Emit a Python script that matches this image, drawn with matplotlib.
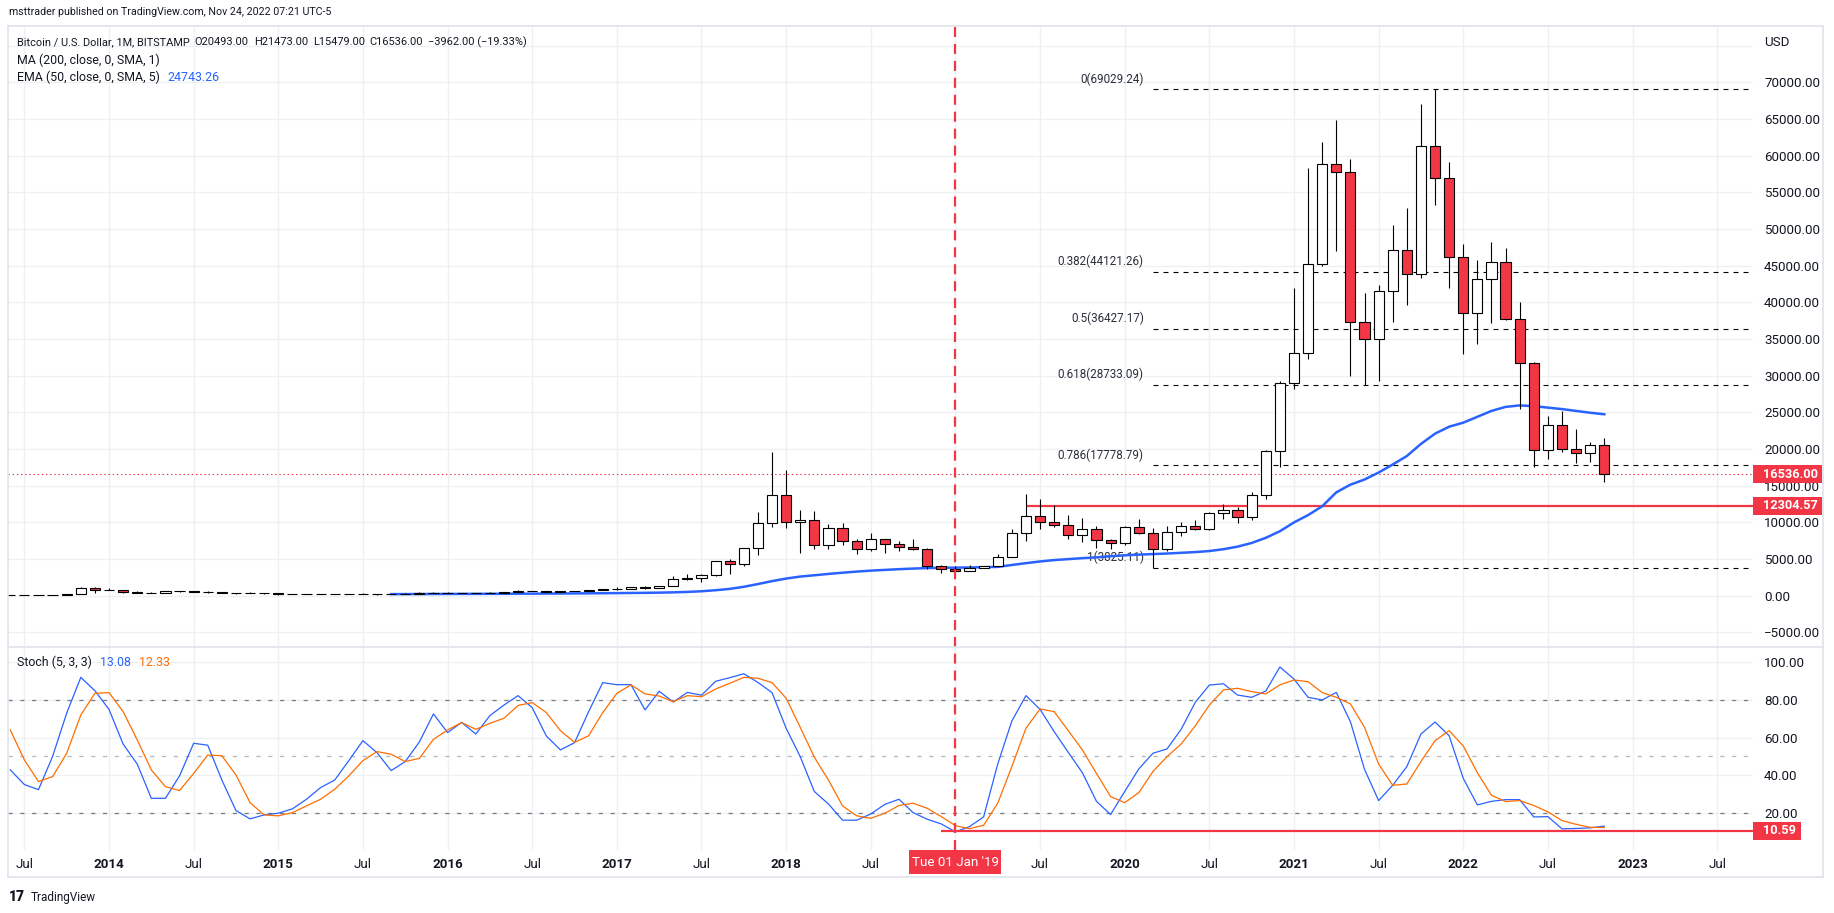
import matplotlib
matplotlib.use("Agg")
import matplotlib.pyplot as plt
import matplotlib.transforms as mtransforms
from matplotlib.patches import Rectangle
from matplotlib.lines import Line2D
import pandas as pd

plt.rcParams['font.family'] = ['Roboto', 'DejaVu Sans']
plt.rcParams['lines.scale_dashes'] = False

RED = '#F23645'
BLUE = '#2962FF'
ORANGE = '#FF6D00'
TXT = '#131722'
GRID = '#eef0f3'
FRAME = '#e0e3eb'

# BTCUSD monthly (Bitstamp), Jun 2013 .. Nov 2022
first_month = '2013-06'
opens = [
    129, 97, 106, 135, 133, 204, 1130,
    732, 803, 565, 445, 447, 628, 640, 585, 478, 387, 338, 378,
    320, 217, 254, 244, 236, 230, 263, 284, 230, 236, 313, 377,
    430, 368, 436, 416, 448, 531, 673, 624, 573, 609, 698, 743,
    964, 968, 1190, 1080, 1350, 2300, 2480, 2870, 4730, 4340, 6450, 9950,
    13800, 10100, 10330, 6930, 9240, 7500, 6390, 7730, 7030, 6630, 6320, 4020,
    3690, 3410, 3820, 4110, 5330, 8560, 10820, 10080, 9590, 8290, 9150, 7540,
    7190, 9350, 8540, 6410, 8630, 9450, 9140, 11340, 11650, 10780, 13800, 19700,
    28990, 33110, 45240, 58800, 57750, 37300, 35040, 41500, 47100, 43800, 61300, 57000,
    46200, 38500, 43200, 45500, 37700, 31800, 19900, 23300, 20050, 19420, 20493,
]
highs = [
    129, 111, 140, 150, 220, 1163, 1165,
    1000, 846, 700, 548, 630, 677, 658, 598, 494, 416, 462, 393,
    320, 267, 300, 261, 248, 268, 316, 285, 247, 335, 502, 466,
    462, 445, 438, 467, 552, 780, 704, 628, 629, 714, 753, 979,
    1150, 1200, 1350, 1360, 2750, 3000, 2950, 4800, 5000, 6470, 11400, 19666,
    17150, 11700, 11600, 9780, 9990, 7780, 8500, 7750, 7420, 7680, 6560, 4250,
    4100, 4200, 4120, 5640, 9090, 13880, 13200, 12330, 10950, 10540, 9510, 7750,
    9580, 10500, 9190, 9460, 10080, 10390, 11450, 12480, 12090, 14100, 19860, 29300,
    41950, 58350, 61790, 64900, 59600, 41300, 42400, 50500, 52900, 67000, 69029, 59100,
    47900, 45800, 48200, 47400, 40000, 31900, 24500, 25200, 22700, 20990, 21473,
]
lows = [
    88, 65, 100, 111, 100, 202, 400,
    727, 420, 440, 340, 418, 525, 564, 440, 366, 276, 318, 285,
    152, 212, 236, 214, 227, 219, 253, 162, 224, 235, 300, 350,
    350, 365, 391, 412, 436, 500, 607, 467, 567, 604, 680, 739,
    750, 933, 890, 1060, 1340, 2100, 1830, 2670, 2950, 4100, 5500, 9400,
    9210, 5890, 6440, 6390, 6930, 5750, 6070, 5880, 6100, 6200, 3650, 3130,
    3350, 3370, 3760, 4060, 5330, 7450, 9060, 9320, 7710, 7300, 6520, 6430,
    6860, 8460, 3825, 6150, 8110, 8920, 8970, 10520, 9880, 10380, 13200, 17570,
    28130, 32300, 45000, 47000, 30000, 28800, 29300, 37300, 39600, 43300, 53300, 42000,
    32900, 34300, 37200, 37600, 25400, 17600, 18700, 19600, 18150, 18200, 15479,
]
closes = [
    97, 106, 135, 133, 204, 1130, 732,
    803, 565, 445, 447, 628, 640, 585, 478, 387, 338, 378, 320,
    217, 254, 244, 236, 230, 263, 284, 230, 236, 313, 377, 430,
    368, 436, 416, 448, 531, 673, 624, 573, 609, 698, 743, 964,
    968, 1190, 1080, 1350, 2300, 2480, 2870, 4730, 4340, 6450, 9950, 13800,
    10100, 10330, 6930, 9240, 7500, 6390, 7730, 7030, 6630, 6320, 4020, 3690,
    3410, 3820, 4110, 5330, 8560, 10820, 10080, 9590, 8290, 9150, 7540, 7190,
    9350, 8540, 6410, 8630, 9450, 9140, 11340, 11650, 10780, 13800, 19700, 28990,
    33110, 45240, 58800, 57750, 37300, 35040, 41500, 47100, 43800, 61300, 57000, 46200,
    38500, 43200, 45500, 37700, 31800, 19900, 23300, 20050, 19420, 20490, 16536,
]

# EMA (50, SMA 5) line, Sep 2015 .. Nov 2022
ema_first = '2015-09'
ema_vals = [
    230, 235, 240, 246, 252, 258, 264, 270, 277, 285, 294, 303, 313, 324, 336, 350, 366, 385, 405, 430,
    470, 530, 620, 760, 940, 1230, 1600, 2000,
    2350, 2620, 2800, 2980, 3150, 3300, 3430, 3530, 3630, 3710, 3780, 3820,
    3840, 3860, 3900, 3940, 4200, 4450, 4680, 4870, 5000, 5130, 5240, 5390,
    5520, 5610, 5690, 5760, 5860, 5960, 6100, 6350, 6700, 7200, 7900, 8800,
    10000, 11000, 12200, 14100, 15150, 15850, 16800, 17900, 19050, 20700, 22100, 23050,
    23600, 24400, 25200, 25750, 25950, 25850, 25650, 25450, 25200, 24950, 24743.26,
]

# Stoch (5, 3, 3): %K and %D
stoch_k = [
    42.9, 35.1, 32.4, 50, 73, 92, 84.9,
    75, 56.6, 46, 27.8, 27.8, 39.7, 57, 56, 37.5, 21.3, 16.9, 19,
    19.9, 22.2, 27.3, 33.5, 37.5, 47.8, 58.4, 52, 42.5, 47.3, 57.7, 72.6,
    62.7, 68.1, 61.9, 71.7, 77.3, 82.3, 75.9, 60.9, 53.5, 57.3, 73.8, 89.2,
    88.1, 88.1, 74.7, 84.6, 78.9, 84, 82.5, 89.9, 91.8, 93.9, 89.3, 83.9,
    65, 49.9, 31.4, 24.8, 16.2, 16.2, 19.5, 24.6, 27.3, 20.2, 16.7, 14.2,
    10, 12.8, 17.9, 46, 68.8, 82.3, 75, 63.2, 52.2, 41.4, 26.2, 19.2,
    31.4, 43.4, 51.7, 54, 64.4, 78.7, 87.9, 88.6, 82.6, 81.4, 84.7, 97.5,
    91.1, 81.4, 80, 84, 68.5, 43.2, 26.6, 34.7, 44.6, 61.9, 68.3, 61,
    38.4, 24.3, 26.2, 27.1, 27.1, 17.9, 18.1, 11.6, 11.8, 12.1, 13.08,
]
stoch_d = [
    64.1, 48.2, 36.7, 39.3, 51.7, 72, 83.5,
    83.9, 73.8, 58.8, 42.9, 34, 31.9, 41, 50.8, 50.4, 40.2, 25.5, 19,
    18.5, 20.2, 23.8, 27.3, 32.6, 39.7, 47.8, 52.6, 51.2, 47.3, 49, 59.1,
    64.1, 68, 64.4, 67.6, 70.3, 77.1, 78.6, 73.3, 63.7, 57.5, 61, 73.3,
    83.5, 88, 83.2, 82.1, 79.1, 82.3, 81.7, 85.8, 88.8, 92, 91.5, 89.2,
    80.9, 65.5, 49.6, 37.5, 23.8, 18.5, 17.2, 19.9, 24, 25.2, 22.5, 18.1,
    13.3, 11.7, 13.5, 25.2, 44.6, 65, 75.2, 73.8, 63.7, 53.5, 41, 28.7,
    25.5, 30.8, 42, 49.9, 56.6, 66.2, 77.3, 85.3, 86.2, 84.4, 83.2, 88,
    90.6, 89.7, 83.9, 81.4, 77.9, 65.5, 46, 34.7, 35.4, 47.3, 58.4, 63.7,
    55.6, 41.4, 29.4, 26.1, 26.6, 24, 20.6, 16, 14, 12.4, 12.33,
]

fib_ratios = ['0', '0.382', '0.5', '0.618', '0.786', '1']
fib_prices = [69029.24, 44121.26, 36427.17, 28733.09, 17778.79, 3825.11]
fib_from = '2020-03'
support_price = 12304.57
support_from = '2019-06'
stoch_low = 10.59
stoch_low_from = '2018-12'
marker_month = '2019-01'
last_close = 16536.00
price_ticks = list(range(-5000, 70001, 5000))
stoch_ticks = [20, 40, 60, 80, 100]

months = pd.period_range(first_month, periods=len(closes) + 10, freq='M')


def idx(m):
    return (pd.Period(m, 'M') - months[0]).n


x = list(range(len(closes)))
ema_x = [idx(ema_first) + k for k in range(len(ema_vals))]
tick_x = [k for k, p in enumerate(months) if p.month in (1, 7)]
tick_lbl = ['Jul' if months[k].month == 7 else str(months[k].year) for k in tick_x]

# ---- figure layout (pixels) ----
W, H = 1834, 913
fig = plt.figure(figsize=(W / 100, H / 100), dpi=100)
L, R = 8, 1753
T, MID, BOT = 26, 647, 849.5
ax = fig.add_axes([L / W, 1 - MID / H, (R - L) / W, (MID - T) / H])
ax2 = fig.add_axes([L / W, 1 - BOT / H, (R - L) / W, (BOT - MID) / H])
IDT = mtransforms.IdentityTransform()
AXFS = 9.6

xmin, xmax = -0.16, 123.54
for a in (ax, ax2):
    a.set_xlim(xmin, xmax)
    for s in a.spines.values():
        s.set_visible(False)
    a.set_xticks(tick_x)
    a.set_axisbelow(True)
    a.grid(True, color=GRID, lw=1)
    a.yaxis.tick_right()
ax.set_ylim(-6979, 77667)
ax2.set_ylim(0.64, 108.1)

ax.set_yticks(price_ticks + [75000])
ax.set_yticklabels([f'{v:.2f}'.replace('-', '\u2212') for v in price_ticks] + [''])
ax.tick_params(axis='both', length=0, labelbottom=False, pad=8, labelsize=AXFS, labelcolor=TXT)

ax2.set_yticks(stoch_ticks)
ax2.set_yticklabels([f'{v:.2f}' for v in stoch_ticks])
ax2.set_xticklabels([('' if months[k] == pd.Period(marker_month, 'M') else s) for k, s in zip(tick_x, tick_lbl)])
ax2.tick_params(axis='both', length=0, pad=8, labelsize=AXFS, labelcolor=TXT)
ax2.tick_params(axis='x', pad=6)
for lab, s in zip(ax2.get_xticklabels(), tick_lbl):
    if s != 'Jul':
        lab.set_fontweight('bold')

# ---- main pane ----
ax.hlines(fib_prices, idx(fib_from), xmax, colors='black', lw=0.8, linestyles=(0, (3.6, 3.6)), zorder=2)
for r, p in zip(fib_ratios, fib_prices):
    ax.annotate(f'{r}({p:.2f})', xy=(idx(fib_from), p), xytext=(-6.5, 7.5),
                textcoords='offset points', ha='right', va='center', fontsize=8.4, color='#2a2e39')

ax.axhline(last_close, color=RED, lw=0.8, linestyle=(0, (1, 2)), zorder=2)
ax.hlines(support_price, idx(support_from), xmax, colors=RED, lw=1.6, zorder=2)

ax.plot(ema_x, ema_vals, color=BLUE, lw=1.8, zorder=3)

body_lo = [min(o, c) for o, c in zip(opens, closes)]
body_h = [abs(c - o) for o, c in zip(opens, closes)]
fills = ['white' if c >= o else RED for o, c in zip(opens, closes)]
ax.vlines(x, lows, highs, color='black', lw=0.8, zorder=4)
ax.bar(x, body_h, bottom=body_lo, width=0.72, color=fills, edgecolor='black', linewidth=0.8, zorder=5)

# ---- stoch pane ----
ax2.axhline(80, color='#787B86', lw=0.9, linestyle=(0, (3, 5.5)))
ax2.axhline(20, color='#787B86', lw=0.9, linestyle=(0, (3, 5.5)))
ax2.axhline(50, color='#B2B5BE', lw=0.9, linestyle=(0, (3, 5.5)))
ax2.plot(x, stoch_k, color=BLUE, lw=0.9, zorder=3)
ax2.plot(x, stoch_d, color=ORANGE, lw=0.9, zorder=3)
ax2.hlines(stoch_low, idx(stoch_low_from), xmax, colors=RED, lw=1.6, zorder=4)

for a in (ax, ax2):
    a.axvline(idx(marker_month), color=RED, lw=1.6, linestyle=(0, (7.2, 5)), zorder=6)

# ---- frame ----
for (x0, y0, x1, y1) in [(L, T, 1823, T), (L, 877, 1823, 877), (L, T, L, 877),
                         (1823, T, 1823, 877), (L, MID, 1823, MID)]:
    fig.add_artist(Line2D([x0, x1], [H - y0, H - y1], transform=IDT, color=FRAME, lw=1.2))


def ptext(px, py, s, **kw):
    kw.setdefault('va', 'center')
    return fig.text(px, H - py, s, transform=IDT, **kw)


renderer = fig.canvas.get_renderer()


def chain(px, py, parts, size, gap=6):
    for s, col in parts:
        t = ptext(px, py, s, color=col, fontsize=size)
        px = t.get_window_extent(renderer).x1 + gap


ptext(9, 12, 'msttrader published on TradingView.com, Nov 24, 2022 07:21 UTC-5', color=TXT, fontsize=7.7)
chain(17, 42, [('Bitcoin / U.S. Dollar, 1M, BITSTAMP', TXT), ('O20493.00', TXT), ('H21473.00', TXT),
               ('L15479.00', TXT), ('C16536.00', TXT), ('\u22123962.00 (\u221219.33%)', TXT)], 7.9, gap=5)
chain(17, 60, [('MA (200, close, 0, SMA, 1)', TXT)], 8.9)
chain(17, 77, [('EMA (50, close, 0, SMA, 5)', TXT), (f'{ema_vals[-1]:.2f}', BLUE)], 8.9, gap=7)
chain(17, 662, [('Stoch (5, 3, 3)', TXT), (f'{stoch_k[-1]:.2f}', BLUE), (f'{stoch_d[-1]:.2f}', ORANGE)], 8.9, gap=8)
ptext(1764, 42, 'USD', color=TXT, fontsize=AXFS)


def axis_box(a, val, label, wpx):
    yd = a.transData.transform((0, val))[1]
    fig.add_artist(Rectangle((R, yd - 9), wpx, 18, transform=IDT, facecolor=RED, edgecolor='none', zorder=7))
    fig.text(1763, yd, label, transform=IDT, color='white', fontweight='bold', fontsize=9.2,
             va='center', zorder=8)


axis_box(ax, last_close, f'{last_close:.2f}', 69)
axis_box(ax, support_price, f'{support_price:.2f}', 69)
axis_box(ax2, stoch_low, f'{stoch_low:.2f}', 48)

xd = ax2.transData.transform((idx(marker_month), 0))[0]
fig.add_artist(Rectangle((xd - 46, H - 874), 92, 24, transform=IDT, facecolor=RED, edgecolor='none', zorder=7))
fig.text(xd, H - 862, "Tue 01 Jan '19", transform=IDT, color='white', fontsize=AXFS,
         ha='center', va='center', zorder=8)

# TradingView mark
ptext(9, 897, '17', color=TXT, fontsize=10, fontweight='black')
ptext(31, 897, 'TradingView', color=TXT, fontsize=8.5)

fig.savefig('out.png', dpi=100, facecolor='white')
